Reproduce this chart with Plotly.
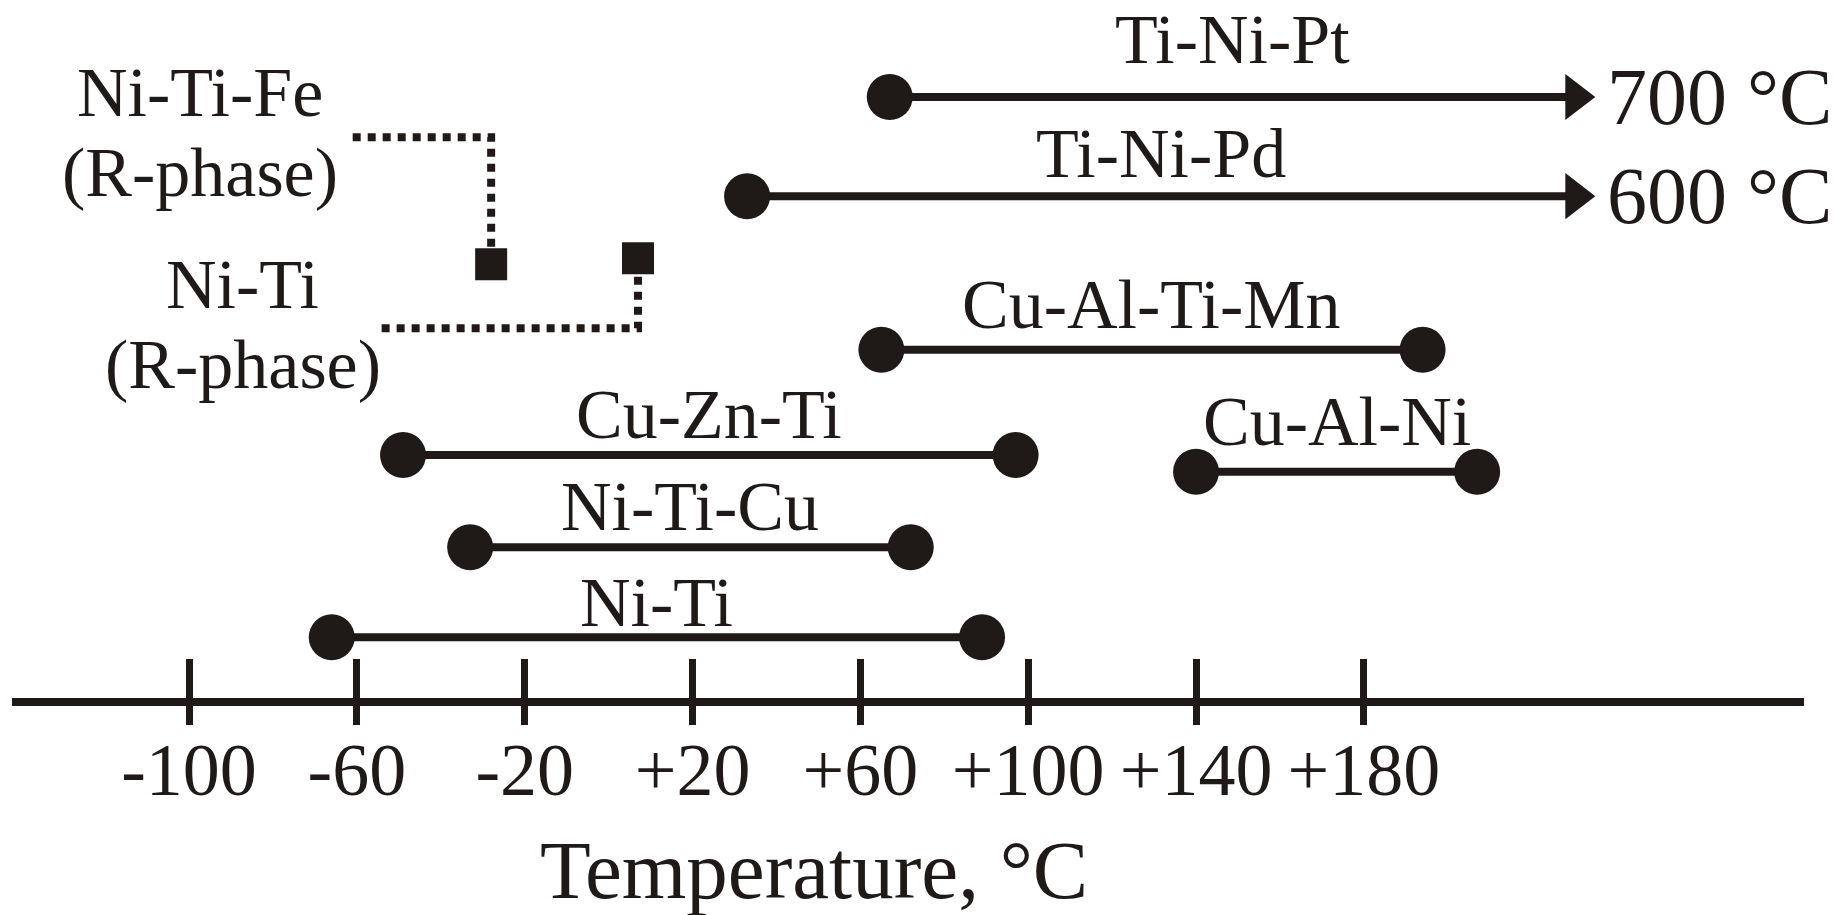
import plotly.graph_objects as go

# ------------------------------------------------------------------ data
ALLOYS = ["Ni-Ti", "Ni-Ti-Cu", "Cu-Zn-Ti", "Cu-Al-Ni", "Cu-Al-Ti-Mn", "Ti-Ni-Pd", "Ti-Ni-Pt"]
T_START = [-66, -33, -49, 140, 65, 33, 67]          # °C, start of working range
T_END = [89, 72, 97, 207, 194, 600, 700]            # °C, end of working range
R_PHASE_ALLOYS = ["Ni-Ti-Fe", "Ni-Ti"]
R_PHASE_T = [-28, 7]                                # °C
TICK_VALUES = [-100, -60, -20, 20, 60, 100, 140, 180]
TICK_TEXT = ["-100", "-60", "-20", "+20", "+60", "+100", "+140", "+180"]
X_TITLE = "Temperature, °C"

# ------------------------------------------------------------------ layout / style
INK = "#1f1a17"
FONT = "Liberation Serif"
X_RANGE = [-142.2, 284.9]
Y_RANGE = [0, 100]
X_CUTOFF = 230.4            # open-ended ranges are cut here with an arrow

ROW_LEVEL = {"Ti-Ni-Pt": 86.1, "Ti-Ni-Pd": 71.9, "Cu-Al-Ti-Mn": 49.9, "Cu-Zn-Ti": 34.8,
             "Cu-Al-Ni": 32.4, "Ni-Ti-Cu": 21.6, "Ni-Ti": 8.7}
LABEL_RISE = {"Ti-Ni-Pt": 58, "Ti-Ni-Pd": 43, "Cu-Al-Ti-Mn": 45, "Cu-Zn-Ti": 41,
              "Cu-Al-Ni": 50, "Ni-Ti-Cu": 41, "Ni-Ti": 35}
R_SQUARE_LEVEL = {"Ni-Ti-Fe": 62.15, "Ni-Ti": 63.0}
R_LINK_LEVEL = {"Ni-Ti-Fe": 80.33, "Ni-Ti": 52.97}
R_LINK_START = {"Ni-Ti-Fe": -61.0, "Ni-Ti": -54.1}
R_LABEL = {"Ni-Ti-Fe": (0.1050, 86.75, 75.29), "Ni-Ti": (0.1289, 59.31, 47.85)}

fig = go.Figure()
annotations = []

for name, t0, t1 in zip(ALLOYS, T_START, T_END):
    y = ROW_LEVEL[name]
    open_ended = t1 > X_RANGE[1]
    x_end = X_CUTOFF if open_ended else t1
    fig.add_trace(go.Scatter(
        x=[t0, x_end], y=[y, y], mode="lines+markers",
        line=dict(color=INK, width=8),
        marker=dict(color=INK, opacity=1,
                    symbol=["circle", "triangle-right" if open_ended else "circle"],
                    size=[46, 40 if open_ended else 46], line=dict(width=0)),
        hoverinfo="skip", showlegend=False, cliponaxis=False))
    annotations.append(dict(x=(t0 + x_end) / 2, y=y, xref="x", yref="y", text=name,
                            showarrow=False, yshift=LABEL_RISE[name],
                            xanchor="center", yanchor="middle",
                            font=dict(family=FONT, size=70, color=INK)))
    if open_ended:
        annotations.append(dict(x=x_end, y=y, xref="x", yref="y", text=f"{t1} °C",
                                showarrow=False, xanchor="left", xshift=30, yanchor="middle",
                                font=dict(family=FONT, size=80, color=INK)))

for name, t in zip(R_PHASE_ALLOYS, R_PHASE_T):
    ys = R_SQUARE_LEVEL[name]
    yl = R_LINK_LEVEL[name]
    fig.add_trace(go.Scatter(
        x=[R_LINK_START[name], t, t], y=[yl, yl, ys], mode="lines",
        line=dict(color=INK, width=8, dash="8px,7px"),
        hoverinfo="skip", showlegend=False))
    fig.add_trace(go.Scatter(
        x=[t], y=[ys], mode="markers",
        marker=dict(color=INK, opacity=1, symbol="square", size=32, line=dict(width=0)),
        hoverinfo="skip", showlegend=False))
    px, y1, y2 = R_LABEL[name]
    annotations.append(dict(x=px, y=y1, xref="paper", yref="y", text=name, showarrow=False,
                            xanchor="center", yanchor="middle",
                            font=dict(family=FONT, size=70, color=INK)))
    annotations.append(dict(x=px, y=y2, xref="paper", yref="y", text="(R-phase)", showarrow=False,
                            xanchor="center", yanchor="middle",
                            font=dict(family=FONT, size=70, color=INK)))

annotations.append(dict(x=0.4475, y=0, xref="paper", yref="paper", text=X_TITLE, showarrow=False,
                        xanchor="center", yanchor="middle", yshift=-172,
                        font=dict(family=FONT, size=83, color=INK)))

# invisible trace so that the overlaid axis (lower half of the tick marks) is drawn
fig.add_trace(go.Scatter(x=[TICK_VALUES[0]], y=[0], xaxis="x2", mode="markers",
                         marker=dict(opacity=0), hoverinfo="skip", showlegend=False))

fig.update_layout(
    width=1843, height=915,
    margin=dict(l=12, r=39, t=0, b=217),
    paper_bgcolor="white", plot_bgcolor="white",
    showlegend=False, hovermode=False,
    annotations=annotations,
    xaxis=dict(range=X_RANGE, showgrid=False, zeroline=False,
               showline=True, linecolor=INK, linewidth=8,
               ticks="inside", ticklen=39, tickwidth=7, tickcolor=INK,
               tickmode="array", tickvals=TICK_VALUES, ticktext=TICK_TEXT, tickangle=0,
               tickfont=dict(family=FONT, size=74, color=INK)),
    xaxis2=dict(range=X_RANGE, overlaying="x", side="bottom", showgrid=False, zeroline=False,
                showline=False, showticklabels=False,
                ticks="outside", ticklen=26, tickwidth=7, tickcolor=INK,
                tickmode="array", tickvals=TICK_VALUES),
    yaxis=dict(range=Y_RANGE, visible=False, showgrid=False, zeroline=False, fixedrange=True),
)

fig.write_html("out.html")
